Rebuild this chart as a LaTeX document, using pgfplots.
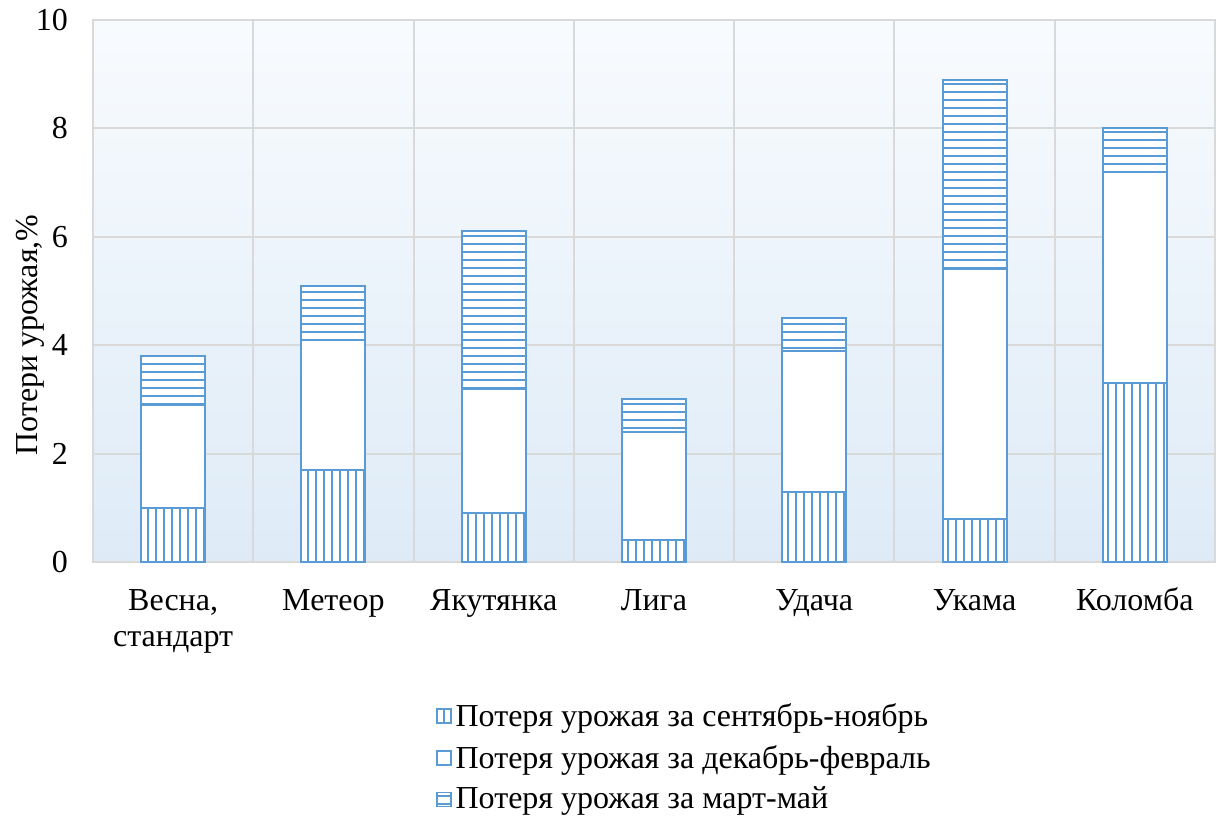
\documentclass[border=0pt]{standalone}
\usepackage{pgfplots}
\pgfplotsset{compat=1.18}
\usetikzlibrary{patterns}
\usepackage{fontspec}
\setmainfont{Liberation Serif}

\definecolor{barblue}{RGB}{91,155,213}
\definecolor{gridgray}{RGB}{217,217,217}
\definecolor{bgtop}{RGB}{248,251,254}
\definecolor{bgbottom}{RGB}{222,235,247}

% штриховки с шагом 4pt на крупной плитке
\pgfdeclarepatternformonly{vlines4}{\pgfpoint{-1pt}{-1pt}}{\pgfpoint{17pt}{17pt}}{\pgfpoint{16pt}{16pt}}{%
  \pgfsetlinewidth{0.8pt}%
  \foreach \k in {2,6,10,14} {\pgfpathmoveto{\pgfpoint{\k pt}{-1pt}}\pgfpathlineto{\pgfpoint{\k pt}{17pt}}}%
  \pgfusepath{stroke}}
\pgfdeclarepatternformonly{hlines4}{\pgfpoint{-1pt}{-1pt}}{\pgfpoint{17pt}{17pt}}{\pgfpoint{16pt}{16pt}}{%
  \pgfsetlinewidth{0.8pt}%
  \foreach \k in {2,6,10,14} {\pgfpathmoveto{\pgfpoint{-1pt}{\k pt}}\pgfpathlineto{\pgfpoint{17pt}{\k pt}}}%
  \pgfusepath{stroke}}

% потери урожая по периодам, %
\pgfplotstableread{
x sep dec mar
0 1.0 1.9 0.9
1 1.7 2.4 1.0
2 0.9 2.3 2.9
3 0.4 2.0 0.6
4 1.3 2.6 0.6
5 0.8 4.6 3.5
6 3.3 3.9 0.8
}\losses

\begin{document}
\begin{tikzpicture}
\path[use as bounding box] (-46.5pt,-127pt) rectangle (565.5pt,281pt);
\begin{axis}[
    at={(0,0)}, anchor=south west,
    scale only axis,
    width=561pt, height=271pt,
    ybar stacked,
    bar width=32pt,
    xmin=-0.5, xmax=6.5,
    ymin=0, ymax=10,
    ytick={0,2,...,10},
    xtick=data,
    xticklabels={{\strut Весна,\\стандарт},\strut Метеор,\strut Якутянка,\strut Лига,\strut Удача,\strut Укама,\strut Коломба},
    xticklabel style={align=center, font=\fontsize{16}{18}\selectfont, yshift=-8pt},
    yticklabel style={font=\fontsize{16}{19}\selectfont, xshift=-9pt},
    /pgf/number format/assume math mode=true,
    minor xtick={-0.5,0.5,...,6.5},
    xminorgrids, ymajorgrids,
    grid style={draw=gridgray, line width=1pt},
    minor grid style={draw=gridgray, line width=1pt},
    major tick length=0pt, minor tick length=0pt,
    axis line style={draw=gridgray, line width=1pt},
    axis background/.style={shade, top color=bgtop, bottom color=bgbottom},
    ylabel={Потери урожая,\%},
    ylabel style={font=\fontsize{16}{19}\selectfont, yshift=-11pt, xshift=-22pt},
    area legend,
    legend style={draw=none, fill=none, at={(0.30,-0.245)}, anchor=north west,
        font=\fontsize{16}{19}\selectfont, row sep=4pt},
    legend cell align=left,
    legend image code/.code={\draw[#1, line width=0.8pt] (0pt,-3.5pt) rectangle (7pt,3.5pt);},
]
\addplot[draw=barblue, line width=1pt, fill=white, postaction={pattern=vlines4, pattern color=barblue}]
    table[x=x, y=sep] {\losses};
\addlegendentry{Потеря урожая за сентябрь-ноябрь}
\addplot[draw=barblue, line width=1pt, fill=white]
    table[x=x, y=dec] {\losses};
\addlegendentry{Потеря урожая за декабрь-февраль}
\addplot[draw=barblue, line width=1pt, fill=white, postaction={pattern=hlines4, pattern color=barblue}]
    table[x=x, y=mar] {\losses};
\addlegendentry{Потеря урожая за март-май}
\end{axis}
\end{tikzpicture}
\end{document}
